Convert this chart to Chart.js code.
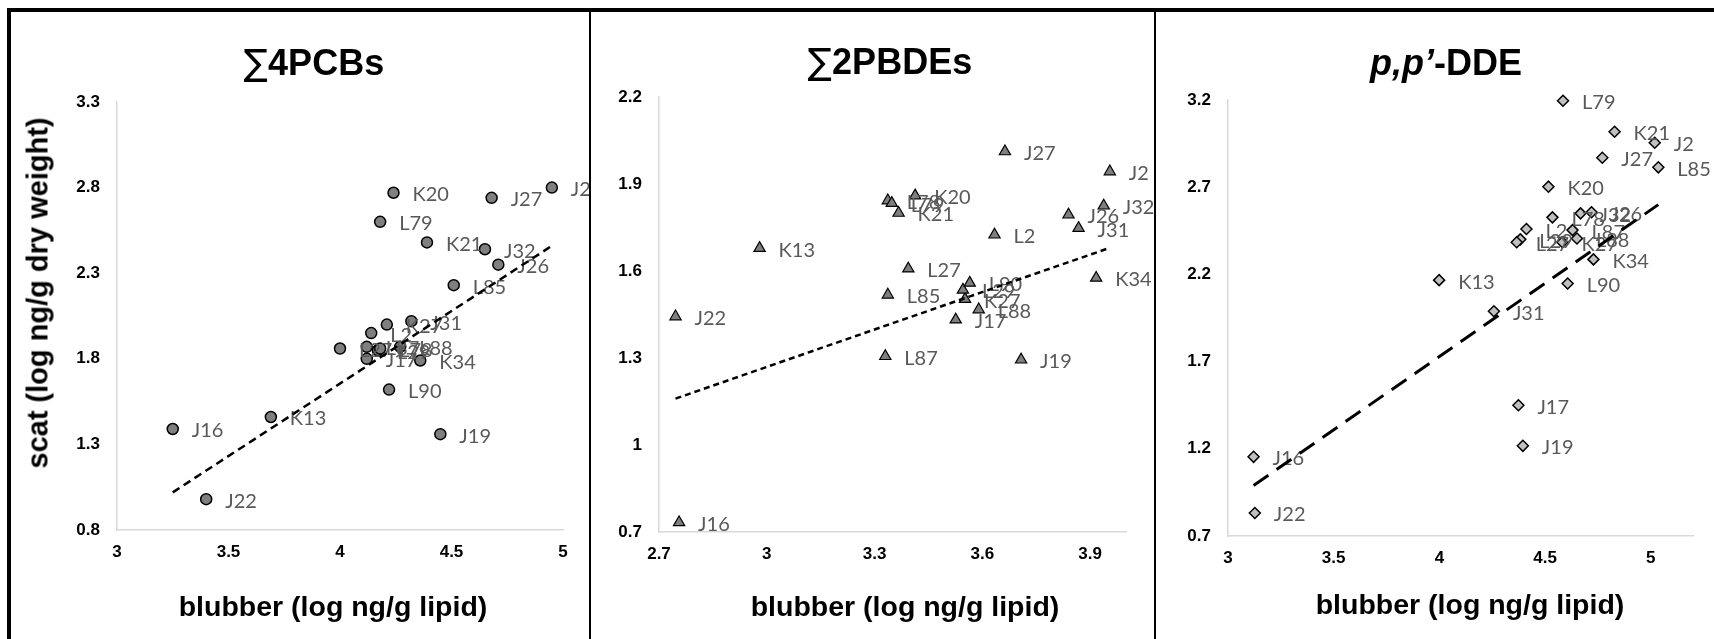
<!DOCTYPE html>
<html>
<head>
<meta charset="utf-8">
<title>Scat vs blubber contaminant levels</title>
<script src="https://cdn.jsdelivr.net/npm/chart.js@4.4.1/dist/chart.umd.min.js"></script>
<style>
  html, body { margin: 0; padding: 0; background: #fff; }
  #wrap { position: relative; width: 1714px; height: 639px; overflow: hidden; font-family: "Liberation Sans", Arial, sans-serif; }
  .panel { position: absolute; top: 0; height: 639px; }
  .panel canvas { position: absolute; left: 0; top: 0; }
  .txt { position: absolute; transform: translate(-50%, -50%); white-space: nowrap; font-weight: bold; color: #000; line-height: 1; }
  .title { font-size: 36px; }
  .title .sum { font-weight: normal; font-family: "DejaVu Sans", sans-serif; }
  .xtitle { font-size: 28.5px; }
  .ytitle { font-size: 29px; transform: translate(-50%, -50%) rotate(-90deg); }
  .rule { position: absolute; background: #000; z-index: 2; }
</style>
</head>
<body>
<div id="wrap">
  <div class="panel" style="left:0;width:590px"><canvas id="pcbChart" width="590" height="639"></canvas></div>
  <div class="panel" style="left:590px;width:565px"><canvas id="pbdeChart" width="565" height="639"></canvas></div>
  <div class="panel" style="left:1155px;width:559px"><canvas id="ddeChart" width="559" height="639"></canvas></div>

  <div class="txt title" style="left:314px;top:63px"><span class="sum">∑</span>4PCBs</div>
  <div class="txt title" style="left:890px;top:62px"><span class="sum">∑</span>2PBDEs</div>
  <div class="txt title" style="left:1446px;top:63px"><i>p,p’</i>-DDE</div>

  <div class="txt ytitle" style="left:38px;top:293px">scat (log ng/g dry weight)</div>
  <div class="txt xtitle" style="left:333px;top:606px">blubber (log ng/g lipid)</div>
  <div class="txt xtitle" style="left:905px;top:606px">blubber (log ng/g lipid)</div>
  <div class="txt xtitle" style="left:1470px;top:604px">blubber (log ng/g lipid)</div>

  <div class="rule" style="left:7px;top:8px;width:1707px;height:4px"></div>
  <div class="rule" style="left:7px;top:8px;width:4px;height:631px"></div>
  <div class="rule" style="left:589px;top:8px;width:2px;height:631px"></div>
  <div class="rule" style="left:1154px;top:8px;width:2px;height:631px"></div>
</div>

<script>
// sample IDs, same order in every series below
const whales = ['J2', 'J16', 'J17', 'J19', 'J22', 'J26', 'J27', 'J31', 'J32', 'K13', 'K20', 'K21',
                'K27', 'L29', 'K34', 'L2', 'L27', 'L78', 'L79', 'L85', 'L87', 'L88', 'L90'];

// ∑4PCBs (log ng/g)
const pcbBlubber = [4.95, 3.25, 4.12, 4.45, 3.40, 4.71, 4.68, 4.32, 4.65, 3.69, 4.24, 4.39,
                    4.21, 4.17, 4.36, 4.14, 4.00, 4.18, 4.18, 4.51, 4.12, 4.27, 4.22];
const pcbScat = [2.80, 1.39, 1.80, 1.36, 0.98, 2.35, 2.74, 2.02, 2.44, 1.46, 2.77, 2.48,
                 2.00, 1.85, 1.79, 1.95, 1.86, 1.86, 2.60, 2.23, 1.87, 1.87, 1.62];
const pcbTrendX = [3.25, 4.95];
const pcbTrendY = [1.02, 2.46];
const pcbXTicks = [3, 3.5, 4, 4.5, 5];
const pcbYTicks = [0.8, 1.3, 1.8, 2.3, 2.8, 3.3];

// ∑2PBDEs (log ng/g)
const pbdeBlubber = [3.955, 2.756, 3.526, 3.708, 2.746, 3.840, 3.663, 3.868, 3.938, 2.980, 3.413, 3.367,
                     3.552, 3.546, 3.917, 3.634, 3.394, 3.337, 3.348, 3.337, 3.330, 3.590, 3.565];
const pbdeScat = [1.943, 0.733, 1.432, 1.294, 1.443, 1.794, 2.012, 1.748, 1.825, 1.679, 1.860, 1.800,
                  1.503, 1.535, 1.576, 1.725, 1.608, 1.843, 1.834, 1.518, 1.306, 1.467, 1.559];
const pbdeTrendX = [2.746, 3.955];
const pbdeTrendY = [1.16, 1.68];
const pbdeXTicks = [2.7, 3, 3.3, 3.6, 3.9];
const pbdeYTicks = [0.7, 1, 1.3, 1.6, 1.9, 2.2];

// p,p'-DDE (log ng/g)
const ddeBlubber = [5.019, 3.121, 4.374, 4.395, 3.127, 4.720, 4.771, 4.258, 4.668, 3.999, 4.516, 4.829,
                    4.582, 4.383, 4.729, 4.412, 4.366, 4.535, 4.585, 5.036, 4.630, 4.651, 4.607];
const ddeScat = [2.955, 1.154, 1.450, 1.217, 0.832, 2.556, 2.869, 1.989, 2.550, 2.167, 2.703, 3.018,
                 2.384, 2.401, 2.286, 2.460, 2.384, 2.527, 3.196, 2.814, 2.454, 2.406, 2.148];
const ddeTrendX = [3.121, 5.036];
const ddeTrendY = [0.99, 2.60];
const ddeXTicks = [3, 3.5, 4, 4.5, 5];
const ddeYTicks = [0.7, 1.2, 1.7, 2.2, 2.7, 3.2];

// writes the sample ID to the right of each marker
const pointLabels = {
    id: 'pointLabels',
    afterDatasetDraw(chart, args, opts) {
        if (args.index !== 0) return;
        const ctx = chart.ctx;
        ctx.save();
        ctx.font = '20px Lato';
        ctx.fillStyle = '#595959';
        ctx.textBaseline = 'middle';
        args.meta.data.forEach((pt, i) => {
            ctx.fillText(opts.names[i], pt.x + 19, pt.y + 2);
        });
        ctx.restore();
    }
};

const tickFont = { family: '"Liberation Sans", Arial, sans-serif', size: 17, weight: 'bold' };

function scatterChart(id, xs, ys, trendX, trendY, xTicks, yTicks, opt) {
    const points = xs.map((x, i) => ({ x: x, y: ys[i] }));
    const trend = trendX.map((x, i) => ({ x: x, y: trendY[i] }));

    return new Chart(document.getElementById(id), {
        type: 'scatter',
        data: {
            datasets: [{
                data: points,
                order: 1,
                pointStyle: opt.style,
                pointRadius: opt.radius,
                backgroundColor: opt.fill,
                borderColor: '#000',
                borderWidth: opt.border,
                clip: false
            }, {
                data: trend,
                order: 0,
                showLine: true,
                pointRadius: 0,
                borderColor: '#000',
                borderWidth: opt.dashWidth,
                borderDash: opt.dash,
                fill: false
            }]
        },
        options: {
            responsive: false,
            animation: false,
            events: [],
            layout: { padding: { left: 0, top: opt.top, right: opt.right, bottom: 0 } },
            plugins: {
                legend: { display: false },
                tooltip: { enabled: false },
                pointLabels: { names: whales }
            },
            scales: {
                x: {
                    type: 'linear',
                    min: xTicks[0],
                    max: opt.xMax,
                    afterBuildTicks: (scale) => { scale.ticks = xTicks.map(v => ({ value: v })); },
                    afterFit: (scale) => { scale.height = opt.xHeight; },
                    grid: { display: false, drawTicks: false },
                    border: { display: true, color: '#d9d9d9', width: 1.5 },
                    ticks: { font: tickFont, color: '#000', padding: 12, maxRotation: 0,
                             callback: (v) => String(v) }
                },
                y: {
                    type: 'linear',
                    min: yTicks[0],
                    max: yTicks[yTicks.length - 1],
                    afterBuildTicks: (scale) => { scale.ticks = yTicks.map(v => ({ value: v })); },
                    afterFit: (scale) => { scale.width = opt.yWidth; },
                    grid: { display: false, drawTicks: false },
                    border: { display: true, color: '#d9d9d9', width: 1.5 },
                    ticks: { font: tickFont, color: '#000', padding: 17,
                             callback: (v) => String(v) }
                }
            }
        },
        plugins: [pointLabels]
    });
}

scatterChart('pcbChart', pcbBlubber, pcbScat, pcbTrendX, pcbTrendY, pcbXTicks, pcbYTicks, {
    style: 'circle', radius: 5.5, fill: '#7f7f7f', border: 1.5,
    dash: [8, 5], dashWidth: 2.5,
    xMax: 5, top: 102, right: 27, yWidth: 117, xHeight: 109
});

scatterChart('pbdeChart', pbdeBlubber, pbdeScat, pbdeTrendX, pbdeTrendY, pbdeXTicks, pbdeYTicks, {
    style: 'triangle', radius: 6.5, fill: '#7f7f7f', border: 1.2,
    dash: [6, 4], dashWidth: 2.5,
    xMax: 4.0, top: 97, right: 29, yWidth: 69, xHeight: 107
});

scatterChart('ddeChart', ddeBlubber, ddeScat, ddeTrendX, ddeTrendY, ddeXTicks, ddeYTicks, {
    style: 'rectRot', radius: 5.5, fill: '#c0c0c0', border: 1.5,
    dash: [18, 10], dashWidth: 3,
    xMax: 5.2, top: 100, right: 21, yWidth: 73, xHeight: 103
});
</script>
</body>
</html>
